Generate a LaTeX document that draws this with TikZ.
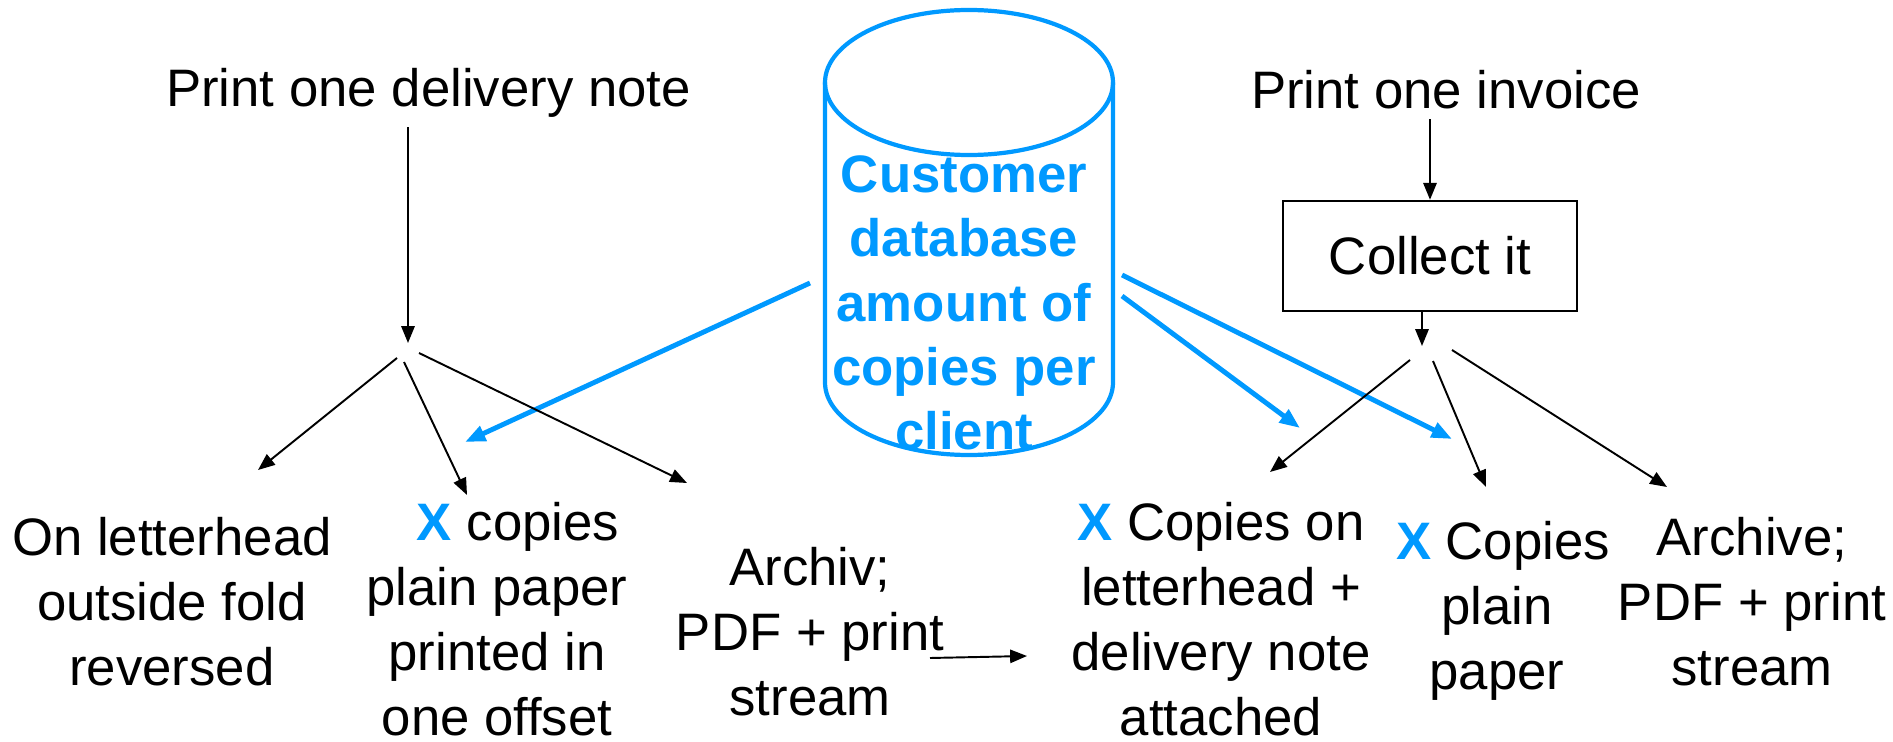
\documentclass[tikz,border=0pt]{standalone}
\usepackage{fontspec}
\setmainfont{Liberation Sans}
\usepackage{tikz}
\definecolor{dbblue}{RGB}{0,153,255}
\usetikzlibrary{arrows.meta}

\newcommand{\bx}{{\color{dbblue}\bfseries X}}

\begin{document}
\begin{tikzpicture}[
  txt/.style={align=center, inner sep=0pt, font=\fontsize{15}{18.5}\selectfont},
  flow/.style={-{Triangle[length=4.8pt,width=3.8pt]}, line width=0.55pt},
  dblink/.style={-{Triangle[length=5.8pt,width=4.4pt]}, dbblue, line width=1.4pt},
]
\useasboundingbox (0,0) rectangle (18.93,-7.42);

% database
\draw[dbblue, line width=1.2pt] (9.69,-0.825) ellipse (1.44 and 0.725);
\draw[dbblue, line width=1.2pt] (8.25,-0.825) -- (8.25,-3.825) arc (180:360:1.44 and 0.725) -- (11.13,-0.825);
\node[txt, dbblue, font=\fontsize{15}{18.3}\selectfont\bfseries] (db) at (9.64,-3.03) {Customer\\database\\amount of\\copies per\\client};

% top
\node[txt, inner sep=2.5pt, anchor=base] (pdn) at (4.285,-1.07) {Print one delivery note};
\node[txt, inner sep=2.5pt, anchor=base] (poi) at (14.46,-1.09) {Print one invoice};
\node[txt, draw, line width=0.7pt, minimum width=2.94cm, minimum height=1.10cm] (collect) at (14.30,-2.56) {Collect it};

% bottom
\node[txt] (lh) at (1.72,-6.015) {On letterhead\\outside fold\\reversed};
\node[txt] (xc) at (4.97,-6.19) {\hspace*{0.42cm}\bx{} copies\\plain paper\\printed in\\one offset};
\node[txt] (arL) at (8.10,-6.315) {Archiv;\\PDF + print\\stream};
\node[txt] (xco) at (12.21,-6.195) {\bx{} Copies on\\letterhead +\\delivery note\\attached};
\node[txt] (xcp) at (14.97,-6.11) {\hspace*{0.12cm}\bx{} Copies\\plain\\paper};
\node[txt] (arR) at (17.52,-6.02) {Archive;\\PDF + print\\stream};

\coordinate (dnSplit) at (4.08,-3.43);
\coordinate (dnA) at (3.97,-3.58);
\coordinate (dnB) at (4.04,-3.62);
\coordinate (dnC) at (4.19,-3.53);
\coordinate (lhTip) at (2.58,-4.70);
\coordinate (xcTip) at (4.67,-4.95);
\coordinate (arLTip) at (6.87,-4.83);

\coordinate (invSplit) at (14.22,-3.46);
\coordinate (invA) at (14.10,-3.60);
\coordinate (invB) at (14.33,-3.61);
\coordinate (invC) at (14.52,-3.50);
\coordinate (xcoTip) at (12.70,-4.72);
\coordinate (xcpTip) at (14.86,-4.87);
\coordinate (arRTip) at (16.67,-4.87);

\coordinate (dbL) at (8.10,-2.83);
\coordinate (dbR1) at (11.22,-2.96);
\coordinate (dbR2) at (11.22,-2.75);
\coordinate (xcBlue) at (4.65,-4.42);
\coordinate (xcoBlue) at (13.00,-4.28);
\coordinate (xcpBlue) at (14.52,-4.39);

\coordinate (arLout) at (9.30,-6.58);
\coordinate (xcoIn) at (10.27,-6.56);

\draw[dblink] (dbL) -- (xcBlue);
\draw[dblink] (dbR1) -- (xcoBlue);
\draw[dblink] (dbR2) -- (xcpBlue);

\draw[flow] (pdn.south -| dnSplit) -- (dnSplit);
\draw[flow] (dnA) -- (lhTip);
\draw[flow] (dnB) -- (xcTip);
\draw[flow] (dnC) -- (arLTip);

\draw[flow] (poi.south -| collect.north) -- (collect.north);
\draw[flow] (collect.south -| invSplit) -- (invSplit);
\draw[flow] (invA) -- (xcoTip);
\draw[flow] (invB) -- (xcpTip);
\draw[flow] (invC) -- (arRTip);

\draw[flow] (arLout) -- (xcoIn);
\end{tikzpicture}
\end{document}
